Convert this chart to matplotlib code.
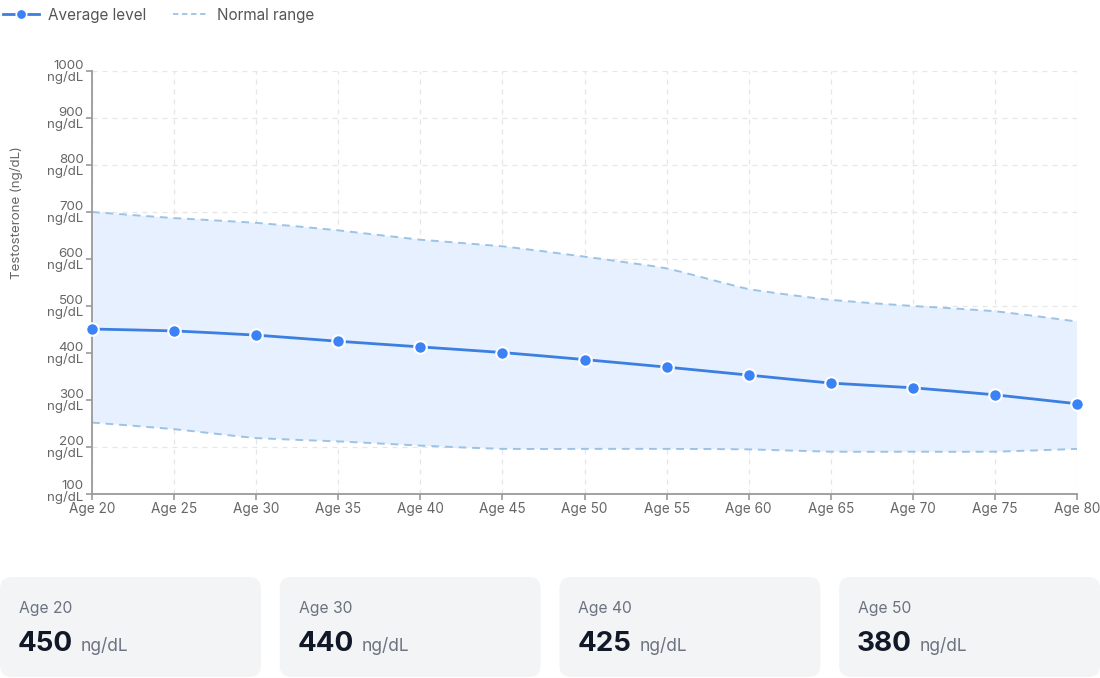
import numpy as np
import matplotlib
matplotlib.use("Agg")
import matplotlib.pyplot as plt
import matplotlib.transforms as mtransforms
from matplotlib.path import Path
from matplotlib.patches import PathPatch, FancyBboxPatch
from matplotlib.lines import Line2D

# ---------------- data ----------------
ages = [20, 25, 30, 35, 40, 45, 50, 55, 60, 65, 70, 75, 80]
age_labels = ["Age 20", "Age 25", "Age 30", "Age 35", "Age 40", "Age 45", "Age 50",
              "Age 55", "Age 60", "Age 65", "Age 70", "Age 75", "Age 80"]
average_level = [451, 447, 438, 425, 413, 401, 386, 370, 353, 336, 326, 311, 292]
normal_upper = [700, 687, 677, 661, 641, 627, 605, 580, 536, 513, 500, 489, 467]
normal_lower = [252, 238, 219, 212, 203, 196, 196, 196, 195, 190, 190, 190, 196]
y_ticks = [100, 200, 300, 400, 500, 600, 700, 800, 900, 1000]
y_tick_labels = ["100\nng/dL", "200\nng/dL", "300\nng/dL", "400\nng/dL", "500\nng/dL",
                 "600\nng/dL", "700\nng/dL", "800\nng/dL", "900\nng/dL", "1000\nng/dL"]
card_labels = ["Age 20", "Age 30", "Age 40", "Age 50"]
card_values = [450, 440, 425, 380]
card_unit = "ng/dL"

# ---------------- style ----------------
plt.rcParams["font.family"] = ["Inter", "DejaVu Sans"]
W, H = 1100, 678
BLUE = "#3b7fe0"
BAND = "#9cc3e6"
FILL = "#e7f0fe"
GRID = "#e6e6e6"
AXC = "#9a9a9a"
TXT = "#666666"

fig = plt.figure(figsize=(W / 100, H / 100), dpi=100)
fig.patch.set_facecolor("white")

# background overlay axes in pixel coordinates (for cards)
bg = fig.add_axes([0, 0, 1, 1], zorder=0)
bg.set_xlim(0, W)
bg.set_ylim(H, 0)
bg.axis("off")

# main axes
L, R, T, B = 92, 1077, 71, 494
ax = fig.add_axes([L / W, (H - B) / H, (R - L) / W, (B - T) / H], zorder=2)
ax.set_facecolor("none")
ax.set_xlim(ages[0], ages[-1])
ax.set_ylim(y_ticks[0], y_ticks[-1])

sx = (R - L) / (ages[-1] - ages[0])
sy = (B - T) / (y_ticks[-1] - y_ticks[0])


def spline(xs, ys, t=0.4):
    P = np.column_stack([np.asarray(xs, float) * sx, np.asarray(ys, float) * sy])
    n = len(P)
    prev_cp, next_cp = [], []
    for i in range(n):
        p0 = P[i - 1] if i > 0 else P[i]
        p1 = P[i]
        p2 = P[i + 1] if i < n - 1 else P[i]
        d01 = np.hypot(*(p1 - p0))
        d12 = np.hypot(*(p2 - p1))
        tot = d01 + d12
        s01 = d01 / tot if tot else 0
        s12 = d12 / tot if tot else 0
        prev_cp.append(p1 - t * s01 * (p2 - p0))
        next_cp.append(p1 + t * s12 * (p2 - p0))
    verts = [P[0]]
    codes = [Path.MOVETO]
    for i in range(1, n):
        verts += [next_cp[i - 1], prev_cp[i], P[i]]
        codes += [Path.CURVE4] * 3
    verts = np.array(verts)
    verts[:, 0] /= sx
    verts[:, 1] /= sy
    return verts, codes


uv, uc = spline(ages, normal_upper, t=0.15)
lv, lc = spline(ages, normal_lower, t=0.15)
av, ac = spline(ages, average_level, t=0.1)

# filled band
fill_verts = np.vstack([uv, lv[::-1], lv[-1:]])
fill_codes = list(uc) + [Path.LINETO] + [Path.CURVE4] * (len(lv) - 1) + [Path.CLOSEPOLY]
ax.add_patch(PathPatch(Path(fill_verts, fill_codes), facecolor=FILL, edgecolor="none", zorder=1))

for v, c in ((uv, uc), (lv, lc)):
    ax.add_patch(PathPatch(Path(v, c), facecolor="none", edgecolor=BAND, lw=1.4,
                           linestyle=(0, (4, 3)), zorder=2))

ax.add_patch(PathPatch(Path(av, ac), facecolor="none", edgecolor=BLUE, lw=2.0, zorder=3))
ax.plot(ages, average_level, linestyle="none", marker="o", ms=9, mfc="#3b82f6",
        mec="white", mew=1.5, zorder=4, clip_on=False)

# grid & axes
ax.set_xticks(ages)
ax.set_xticklabels(age_labels)
ax.set_yticks(y_ticks)
ax.set_yticklabels(y_tick_labels, linespacing=0.9)
ax.grid(True, color=GRID, lw=0.9, linestyle=(0, (4, 4)), zorder=0)
ax.set_axisbelow(True)
for s in ("top", "right"):
    ax.spines[s].set_visible(False)
for s in ("left", "bottom"):
    ax.spines[s].set_color(AXC)
    ax.spines[s].set_linewidth(1.3)
ax.tick_params(axis="both", colors=AXC, length=4, width=1.2, labelcolor=TXT)
ax.tick_params(axis="y", labelsize=9.6, pad=2)
ax.tick_params(axis="x", labelsize=9.8, pad=2)

# nudge the lowest y label up a bit (as in reference)
first_lab = ax.get_yticklabels()[0]
first_lab.set_transform(first_lab.get_transform() +
                        mtransforms.ScaledTranslation(0, 3 / 100, fig.dpi_scale_trans))

fig.text(17 / W, 1 - 213 / H, "Testosterone (ng/dL)", rotation=90, ha="center", va="center",
         fontsize=9.6, color=TXT)

# legend
handles = [
    Line2D([], [], color=BLUE, lw=2.0, marker="o", ms=7.5, mfc="#3b82f6", mec="white", mew=1.2),
    Line2D([], [], color=BAND, lw=1.3, linestyle=(0, (3, 2))),
]
leg = fig.legend(handles, ["Average level", "Normal range"], loc="upper left",
                 bbox_to_anchor=(-0.001, 1.0 - 3 / H), ncol=2, frameon=False, fontsize=11,
                 handlelength=2.3, handletextpad=0.6, columnspacing=1.75,
                 borderpad=0.0, borderaxespad=0.3, numpoints=1)
for t in leg.get_texts():
    t.set_color("#555555")

# cards
card_w, card_gap, card_top, card_bot = 261, 18.7, 577, 677
num_texts = []
for i, (lab, val) in enumerate(zip(card_labels, card_values)):
    x0 = i * (card_w + card_gap)
    bg.add_patch(FancyBboxPatch((x0, card_top), card_w, card_bot - card_top,
                                boxstyle="round,pad=0,rounding_size=12",
                                facecolor="#f3f4f6", edgecolor="none"))
    bg.text(x0 + 19, 613, lab, fontsize=11.3, color="#6b7280", ha="left", va="baseline")
    nt = bg.text(x0 + 18, 651, str(val), fontsize=20, fontweight="bold", color="#111827",
                 ha="left", va="baseline")
    num_texts.append((x0, nt))

fig.canvas.draw()
r = fig.canvas.get_renderer()
for x0, nt in num_texts:
    bb = nt.get_window_extent(renderer=r)
    xe = bb.x1  # display px
    bg.text(xe + 8, 651, card_unit, fontsize=12.5, color="#6b7280", ha="left", va="baseline")

fig.savefig("out.png", dpi=100, facecolor="white")
